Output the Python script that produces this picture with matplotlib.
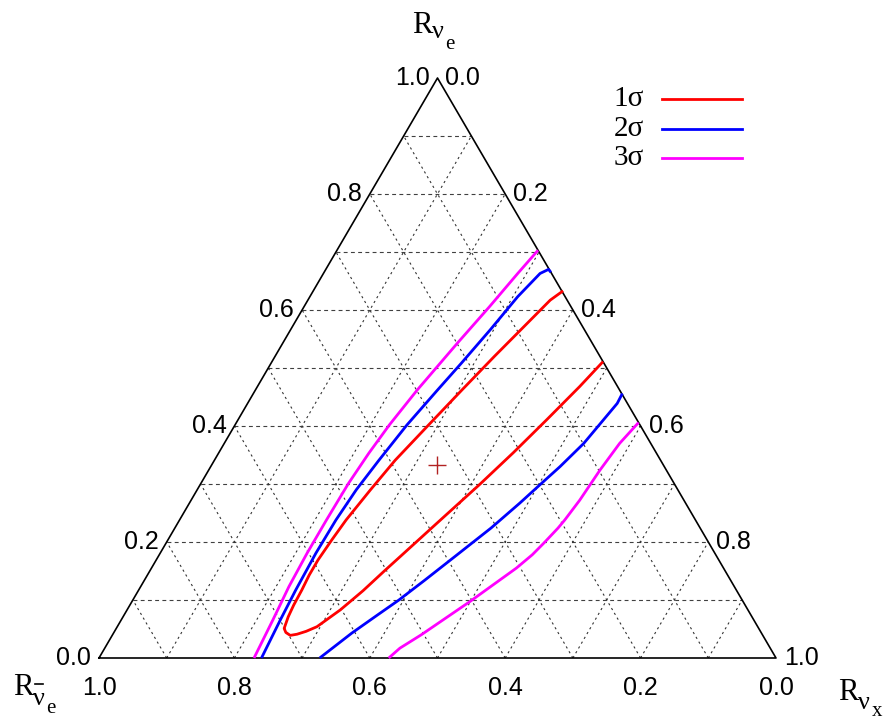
import matplotlib
matplotlib.use('Agg')
import matplotlib.pyplot as plt
from matplotlib.lines import Line2D

# ternary coordinates: r_nue (left axis, up), r_nux (right axis)
sigma_labels = ['1σ', '2σ', '3σ']
sigma_colors = ['#ff0000', '#0000ff', '#ff00ff']

# 1 sigma: one open curve, left branch top -> tip -> right branch top
s1_nue = [0.633, 0.617, 0.577, 0.520, 0.462, 0.402, 0.341, 0.290, 0.238, 0.203,
          0.169, 0.143, 0.117, 0.091, 0.071, 0.051, 0.044, 0.039, 0.041, 0.046,
          0.054, 0.083, 0.116, 0.149, 0.176, 0.228, 0.264, 0.300, 0.354, 0.411,
          0.468, 0.511]
s1_nux = [0.369, 0.358, 0.344, 0.324, 0.305, 0.286, 0.267, 0.256, 0.246, 0.242,
          0.239, 0.239, 0.241, 0.242, 0.244, 0.248, 0.254, 0.263, 0.272, 0.283,
          0.295, 0.315, 0.332, 0.346, 0.358, 0.381, 0.397, 0.413, 0.435, 0.456,
          0.476, 0.489]

# 2 sigma: left branch (top -> bottom), right branch (bottom -> top)
s2l_nue = [0.665, 0.670, 0.663, 0.623, 0.566, 0.508, 0.462, 0.402, 0.341, 0.290,
           0.238, 0.181, 0.117, 0.066, 0.0]
s2l_nux = [0.335, 0.329, 0.320, 0.307, 0.295, 0.281, 0.269, 0.254, 0.243, 0.235,
           0.231, 0.230, 0.232, 0.235, 0.240]
s2r_nue = [0.0, 0.043, 0.071, 0.100, 0.134, 0.178, 0.224, 0.267, 0.301, 0.330,
           0.370, 0.416, 0.439, 0.456]
s2r_nux = [0.326, 0.352, 0.372, 0.393, 0.414, 0.440, 0.467, 0.488, 0.503, 0.516,
           0.531, 0.541, 0.546, 0.545]

# 3 sigma
s3l_nue = [0.703, 0.663, 0.606, 0.543, 0.462, 0.402, 0.353, 0.301, 0.238, 0.181,
           0.123, 0.066, 0.0]
s3l_nux = [0.297, 0.287, 0.274, 0.258, 0.239, 0.228, 0.222, 0.218, 0.217, 0.217,
           0.219, 0.224, 0.229]
s3r_nue = [0.0, 0.017, 0.040, 0.097, 0.155, 0.178, 0.198, 0.224, 0.238, 0.272,
           0.324, 0.370, 0.406]
s3r_nux = [0.428, 0.436, 0.456, 0.499, 0.539, 0.551, 0.558, 0.566, 0.569, 0.574,
           0.578, 0.584, 0.594]

best_nue, best_nux = 0.333, 0.333

ticks = [0.0, 0.2, 0.4, 0.6, 0.8, 1.0]
grid = [0.1, 0.2, 0.3, 0.4, 0.5, 0.6, 0.7, 0.8, 0.9]


def xy(nue, nux):
    # cartesian position inside the triangle (base 0..1, height = r_nue)
    x = [c + a / 2 for a, c in zip(nue, nux)]
    return x, list(nue)


W, H = 894, 721
fig = plt.figure(figsize=(W / 100, H / 100), dpi=100)
ax = fig.add_axes([99 / W, 63 / H, 677 / W, 580 / H])
ax.set_xlim(0, 1)
ax.set_ylim(0, 1)
ax.axis('off')

# grid
for v in grid:
    ax.plot([v / 2, 1 - v / 2], [v, v], color='0.25', lw=0.8,
            ls=(0, (3.5, 3)), zorder=1)
    ax.plot([v, v + (1 - v) / 2], [0, 1 - v], color='0.2', lw=0.8,
            ls=(0, (2, 3)), zorder=1)
    ax.plot([1 - v, (1 - v) / 2], [0, 1 - v], color='0.2', lw=0.8,
            ls=(0, (2, 3)), zorder=1)

# triangle
ax.plot([0, 1, 0.5, 0], [0, 0, 1, 0], color='black', lw=1.2, zorder=3,
        clip_on=False)

# contours
style = dict(lw=2, zorder=4, clip_on=False, solid_capstyle='butt',
             solid_joinstyle='round')
x, y = xy(s1_nue, s1_nux)
ax.plot(x, y, color=sigma_colors[0], **style)
for nue, nux in [(s2l_nue, s2l_nux), (s2r_nue, s2r_nux)]:
    x, y = xy(nue, nux)
    ax.plot(x, y, color=sigma_colors[1], **style)
for nue, nux in [(s3l_nue, s3l_nux), (s3r_nue, s3r_nux)]:
    x, y = xy(nue, nux)
    ax.plot(x, y, color=sigma_colors[2], **style)

bx, by = xy([best_nue], [best_nux])
ax.plot(bx, by, marker='+', ms=13, mew=1, color='#b22222', ls='none', zorder=5)

# tick labels
tfont = dict(family='Liberation Sans', fontsize=18)
for t in ticks:
    # left axis: r_nue
    ax.annotate(f'{t:.1f}', (t / 2, t), xytext=(-8, 0), textcoords='offset pixels',
                ha='right', va='center', **tfont)
    # right axis: r_nux
    ax.annotate(f'{t:.1f}', (t + (1 - t) / 2, 1 - t), xytext=(8, 0),
                textcoords='offset pixels', ha='left', va='center', **tfont)
    # bottom axis: r_nuebar
    ax.annotate(f'{t:.1f}', (1 - t, 0), xytext=(0, -30), textcoords='offset pixels',
                ha='center', va='center', **tfont)


# axis titles: R with nested subscripts, in pixel positions
def ptext(px, py, s, size):
    fig.text(px / W, 1 - py / H, s, ha='left', va='baseline',
             family='Liberation Serif', fontsize=size)


ptext(412, 33, 'R', 22)
ptext(432, 38, 'ν', 19)
ptext(445, 49, 'e', 15)

ptext(13, 695, 'R', 22)
ptext(33, 705, 'ν', 19)
ptext(46, 713, 'e', 15)
fig.add_artist(Line2D([35 / W, 43 / W], [1 - 684 / H, 1 - 684 / H], color='black',
                      lw=1.2, transform=fig.transFigure))

ptext(838, 700, 'R', 22)
ptext(858, 709, 'ν', 19)
ptext(872, 716, 'x', 15)

# legend
for i, (lab, col) in enumerate(zip(sigma_labels, sigma_colors)):
    ypix = 99 + i * 29.5
    fig.text(644 / W, 1 - ypix / H, lab, ha='right', va='center',
             family='Liberation Serif', fontsize=21)
    fig.add_artist(Line2D([662 / W, 742 / W], [1 - ypix / H, 1 - ypix / H],
                          color=col, lw=2, transform=fig.transFigure))

fig.savefig('out.png', dpi=100)
